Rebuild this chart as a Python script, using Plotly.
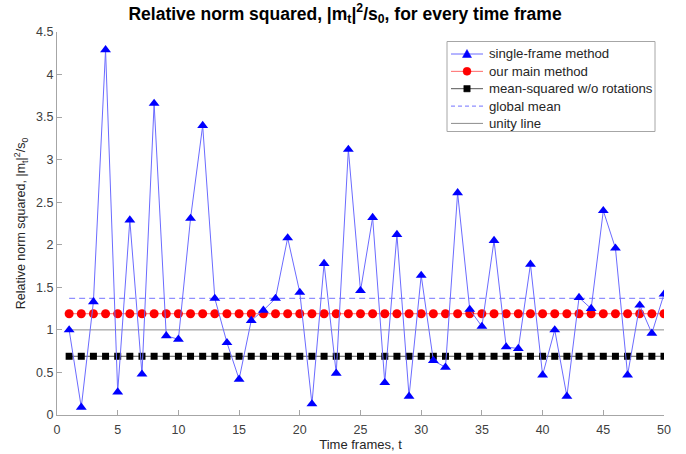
import plotly.graph_objects as go

frames = list(range(1, 51))
single_frame = [1.00, 0.09, 1.33, 4.29, 0.27, 2.29, 0.48, 3.66, 0.93, 0.89,
                2.31, 3.40, 1.37, 0.85, 0.42, 1.11, 1.23, 1.37, 2.08, 1.44,
                0.13, 1.78, 0.49, 3.12, 1.46, 2.32, 0.38, 2.12, 0.22, 1.64,
                0.64, 0.56, 2.61, 1.24, 1.04, 2.05, 0.80, 0.78, 1.77, 0.47,
                1.00, 0.22, 1.38, 1.25, 2.40, 1.96, 0.47, 1.29, 0.96, 1.42]
main_method_value = 1.19
mean_sq_value = 0.69
global_mean_value = 1.37
unity_value = 1.0

main_method = [main_method_value] * len(frames)
mean_sq = [mean_sq_value] * len(frames)
global_mean = [global_mean_value] * len(frames)
unity = [unity_value] * len(frames)

x_ticks = [0, 5, 10, 15, 20, 25, 30, 35, 40, 45, 50]
y_ticks = [0, 0.5, 1, 1.5, 2, 2.5, 3, 3.5, 4, 4.5]
y_tick_text = ["0", "0.5", "1", "1.5", "2", "2.5", "3", "3.5", "4", "4.5"]

legend_names = ["single-frame method", "our main method",
                "mean-squared w/o rotations", "global mean", "unity line"]

FONT = "Liberation Sans, Arial, sans-serif"

# styles
C_SF_LINE, C_SF_MK = "#6b6bff", "#0000ff"
C_MM_LINE, C_MM_MK = "#ff6a6a", "#ff0000"
C_MS_LINE, C_MS_MK = "#555555", "#000000"
C_GM = "#8f8fff"
C_UN = "#8c8c8c"

fig = go.Figure()
fig.add_trace(go.Scatter(
    x=frames, y=unity, mode="lines", name=legend_names[4],
    line=dict(color=C_UN, width=1)))
fig.add_trace(go.Scatter(
    x=frames, y=global_mean, mode="lines", name=legend_names[3],
    line=dict(color=C_GM, width=1.2, dash="6px,4px")))
fig.add_trace(go.Scatter(
    x=frames, y=mean_sq, mode="lines+markers", name=legend_names[2],
    line=dict(color=C_MS_LINE, width=1),
    marker=dict(symbol="square", size=7, color=C_MS_MK)))
fig.add_trace(go.Scatter(
    x=frames, y=main_method, mode="lines+markers", name=legend_names[1],
    line=dict(color=C_MM_LINE, width=1),
    marker=dict(symbol="circle", size=9, color=C_MM_MK)))
fig.add_trace(go.Scatter(
    x=frames, y=single_frame, mode="lines+markers", name=legend_names[0],
    line=dict(color=C_SF_LINE, width=1),
    marker=dict(symbol="triangle-up", size=9.5, color=C_SF_MK)))

# ---- manual legend (layout decoration, pixel -> paper conversion) ----
W, H = 686, 454
ML, MR, MT, MB = 57, 22, 32, 39
PW, PH = W - ML - MR, H - MT - MB


def px(xp):
    return (xp - ML) / PW


def py(yp):
    return (H - MB - yp) / PH


shapes = []
annotations = []
box_l, box_r, box_t, box_b = 447, 655, 41.5, 131.5
shapes.append(dict(type="rect", xref="paper", yref="paper",
                   x0=px(box_l), x1=px(box_r), y0=py(box_b), y1=py(box_t),
                   line=dict(color="#a6a6a6", width=1), fillcolor="white",
                   layer="above"))
row0, row_gap = 54, 17.35
seg_l, seg_r, mk_x, txt_x = 451, 483, 467, 486.5
line_styles = [
    dict(color=C_SF_LINE, width=1),
    dict(color=C_MM_LINE, width=1),
    dict(color=C_MS_LINE, width=1),
    dict(color=C_GM, width=1.2, dash="4px,3px"),
    dict(color=C_UN, width=1),
]
for i, name in enumerate(legend_names):
    yy = row0 + i * row_gap
    shapes.append(dict(type="line", xref="paper", yref="paper",
                       x0=px(seg_l), x1=px(seg_r), y0=py(yy), y1=py(yy),
                       line=line_styles[i], layer="above"))
    annotations.append(dict(text=name, xref="paper", yref="paper",
                            x=px(txt_x), y=py(yy), xanchor="left", yanchor="middle",
                            showarrow=False,
                            font=dict(family=FONT, size=13.2, color="#262626")))

# triangle marker
y0 = row0
tri = "M {:.5f},{:.5f} L {:.5f},{:.5f} L {:.5f},{:.5f} Z".format(
    px(mk_x - 4.5), py(y0 + 3.5), px(mk_x + 4.5), py(y0 + 3.5), px(mk_x), py(y0 - 4.5))
shapes.append(dict(type="path", xref="paper", yref="paper", path=tri,
                   fillcolor=C_SF_MK, line=dict(color=C_SF_MK, width=0.5), layer="above"))
# circle marker
y1 = row0 + row_gap
shapes.append(dict(type="circle", xref="paper", yref="paper",
                   x0=px(mk_x - 4), x1=px(mk_x + 4), y0=py(y1 + 4), y1=py(y1 - 4),
                   fillcolor=C_MM_MK, line=dict(color=C_MM_MK, width=0.5), layer="above"))
# square marker
y2 = row0 + 2 * row_gap
shapes.append(dict(type="rect", xref="paper", yref="paper",
                   x0=px(mk_x - 3.2), x1=px(mk_x + 3.2), y0=py(y2 + 3.2), y1=py(y2 - 3.2),
                   fillcolor=C_MS_MK, line=dict(color=C_MS_MK, width=0.5), layer="above"))

axis_common = dict(
    showline=True, linecolor="#a6a6a6", linewidth=1,
    ticks="inside", ticklen=5, tickcolor="#a6a6a6", tickwidth=1,
    showgrid=False, zeroline=False, mirror=False, automargin=False,
    tickfont=dict(family=FONT, size=12.5, color="#404040"),
)

fig.update_layout(
    width=W, height=H,
    margin=dict(l=ML, r=MR, t=MT, b=MB),
    paper_bgcolor="white", plot_bgcolor="white",
    font=dict(family=FONT, size=12, color="#262626"),
    title=dict(
        text="<b>Relative norm squared, |m<sub>t</sub>|<sup>2</sup>/s<sub>0</sub>, for every time frame</b>",
        x=0.503, xanchor="center", y=0.97, yanchor="middle",
        font=dict(family=FONT, size=17.5, color="#000000")),
    xaxis=dict(range=[0, 50], tickvals=x_ticks, ticklabelstandoff=3,
               title=dict(text="Time frames, t", standoff=2,
                          font=dict(family=FONT, size=13, color="#262626")),
               **axis_common),
    yaxis=dict(range=[0, 4.5], tickvals=y_ticks, ticktext=y_tick_text,
               title=dict(text="Relative norm squared, |m<sub>t</sub>|<sup>2</sup>/s<sub>0</sub>", standoff=7,
                          font=dict(family=FONT, size=12.5, color="#262626")),
               **axis_common),
    showlegend=False,
    shapes=shapes,
    annotations=annotations,
)

fig.write_html("out.html")
